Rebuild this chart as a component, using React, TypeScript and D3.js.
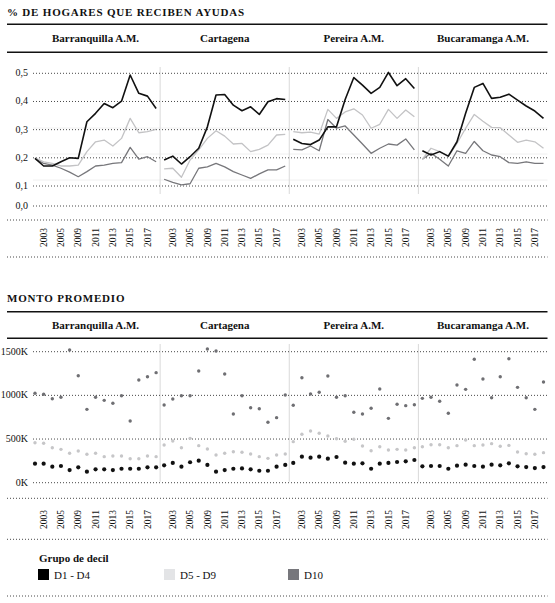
import React from "react";
import { scaleLinear, scalePoint, line } from "d3";

const years = [2002, 2003, 2004, 2005, 2008, 2009, 2010, 2011, 2012, 2013, 2014, 2015, 2016, 2017, 2018];
const yearTicks = [2003, 2005, 2009, 2011, 2013, 2015, 2017];
const cities = ["Barranquilla A.M.", "Cartagena", "Pereira A.M.", "Bucaramanga A.M."];
const groups = ["D1 - D4", "D5 - D9", "D10"];

// % de hogares que reciben ayudas, one row per city
const shareLow = [
  [0.198, 0.171, 0.171, 0.186, 0.2, 0.198, 0.328, 0.358, 0.393, 0.378, 0.401, 0.494, 0.429, 0.419, 0.375],
  [0.192, 0.206, 0.178, 0.204, 0.234, 0.31, 0.423, 0.425, 0.387, 0.367, 0.381, 0.354, 0.399, 0.41, 0.407],
  [0.266, 0.251, 0.247, 0.263, 0.31, 0.31, 0.407, 0.485, 0.458, 0.429, 0.45, 0.503, 0.456, 0.481, 0.446],
  [0.225, 0.21, 0.222, 0.206, 0.257, 0.358, 0.45, 0.464, 0.411, 0.415, 0.426, 0.405, 0.384, 0.366, 0.34],
];
const shareMid = [
  [0.2, 0.186, 0.18, 0.171, 0.171, 0.174, 0.222, 0.257, 0.263, 0.242, 0.269, 0.34, 0.289, 0.293, 0.301],
  [0.161, 0.163, 0.131, 0.192, 0.228, 0.269, 0.296, 0.277, 0.249, 0.251, 0.222, 0.23, 0.245, 0.281, 0.283],
  [0.293, 0.289, 0.291, 0.284, 0.372, 0.34, 0.363, 0.374, 0.352, 0.305, 0.319, 0.372, 0.34, 0.37, 0.346],
  [0.195, 0.234, 0.222, 0.204, 0.251, 0.305, 0.354, 0.33, 0.308, 0.307, 0.281, 0.255, 0.263, 0.257, 0.234],
];
const shareHigh = [
  [0.198, 0.18, 0.174, 0.163, 0.149, 0.133, 0.151, 0.171, 0.174, 0.18, 0.183, 0.237, 0.195, 0.204, 0.186],
  [0.124, 0.113, 0.104, 0.108, 0.163, 0.168, 0.18, 0.168, 0.151, 0.139, 0.127, 0.143, 0.157, 0.157, 0.171],
  [0.23, 0.228, 0.242, 0.225, 0.336, 0.305, 0.313, 0.281, 0.249, 0.216, 0.234, 0.249, 0.245, 0.267, 0.228],
  [0.195, 0.216, 0.195, 0.171, 0.225, 0.216, 0.258, 0.225, 0.21, 0.204, 0.183, 0.18, 0.186, 0.18, 0.18],
];

// monto promedio (miles), one row per city
const amountLow = [
  [218, 218, 183, 191, 145, 176, 126, 153, 153, 145, 160, 160, 160, 176, 176],
  [199, 226, 183, 234, 252, 203, 126, 145, 160, 164, 153, 137, 137, 183, 203],
  [226, 298, 286, 298, 275, 294, 229, 218, 222, 160, 218, 226, 237, 245, 260],
  [187, 191, 191, 160, 195, 206, 191, 183, 206, 199, 222, 187, 179, 168, 179],
];
const amountMid = [
  [458, 451, 401, 382, 337, 363, 325, 337, 298, 306, 306, 275, 275, 306, 298],
  [432, 477, 401, 508, 424, 386, 317, 337, 355, 348, 329, 298, 279, 317, 329],
  [470, 554, 592, 566, 535, 504, 474, 497, 420, 366, 412, 374, 382, 374, 401],
  [412, 435, 435, 401, 424, 489, 424, 432, 447, 417, 427, 352, 332, 325, 344],
];
const amountHigh = [
  [1024, 1012, 962, 978, 1520, 1225, 840, 978, 943, 909, 996, 707, 1176, 1214, 1260],
  [890, 958, 996, 996, 1279, 1531, 1508, 1245, 787, 996, 859, 847, 692, 745, 1004],
  [886, 1202, 1016, 1035, 1222, 978, 996, 806, 787, 852, 1073, 737, 898, 882, 893],
  [966, 978, 932, 795, 1119, 1069, 1413, 1187, 973, 1214, 1420, 1092, 973, 840, 1153],
];

const shareTicks = [0.5, 0.4, 0.3, 0.2, 0.1];
const amountTicks = [1500, 1000, 500, 0];

const W = 555;
const H = 603;
const FONT = "'Liberation Serif', 'DejaVu Serif', serif";
const INK = "#111";
const LEFT = 31;
const RIGHT = 547.5;
const EDGE = 7;
const panelW = (RIGHT - LEFT) / cities.length;

const lineColors = ["#111111", "#c3c3c5", "#77777b"];
const dotColors = ["#111111", "#c6c6c8", "#6f6f73"];
const swatchColors = ["#000000", "#e3e4e6", "#77777c"];

const xFor = (i: number) =>
  scalePoint<number>()
    .domain(years)
    .range([LEFT + i * panelW + 4, LEFT + (i + 1) * panelW - 4]);

const yShare = scaleLinear().domain([0.1, 0.5]).range([186, 73.3]);
const yAmount = scaleLinear().domain([0, 1500]).range([482.7, 351.7]);

const fmtShare = (v: number) => v.toFixed(1).replace(".", ",");

const Dotted: React.FC<{ y: number; x1?: number }> = ({ y, x1 = 33 }) => (
  <line x1={x1} x2={RIGHT} y1={y} y2={y} stroke="#333" strokeWidth={0.9} strokeDasharray="1,2" />
);

const Header: React.FC<{ title: string; titleY: number; lineTop: number; lineBottom: number }> = ({
  title,
  titleY,
  lineTop,
  lineBottom,
}) => (
  <g>
    <text x={EDGE} y={titleY} fontSize={11} fontWeight="bold" letterSpacing={0.8} fill={INK}>
      {title}
    </text>
    <line x1={EDGE} x2={RIGHT} y1={lineTop} y2={lineTop} stroke={INK} strokeWidth={1.5} />
    <line x1={EDGE} x2={RIGHT} y1={lineBottom} y2={lineBottom} stroke={INK} strokeWidth={1.5} />
    {cities.map((c, i) => (
      <text
        key={c}
        x={LEFT + (i + 0.5) * panelW}
        y={(lineTop + lineBottom) / 2 + 3.8}
        textAnchor="middle"
        fontSize={11}
        fontWeight="bold"
        fill={INK}
      >
        {c}
      </text>
    ))}
  </g>
);

const YearLabels: React.FC<{ yEnd: number }> = ({ yEnd }) => (
  <g>
    {cities.map((c, i) => {
      const x = xFor(i);
      return yearTicks.map((yr) => (
        <text
          key={c + yr}
          transform={`translate(${x(yr)},${yEnd}) rotate(-90)`}
          dy="0.33em"
          textAnchor="end"
          fontSize={9.5}
          fill={INK}
        >
          {yr}
        </text>
      ));
    })}
  </g>
);

const Separators: React.FC<{ y1: number; y2: number }> = ({ y1, y2 }) => (
  <g>
    {cities.slice(1).map((c, i) => (
      <line
        key={c}
        x1={LEFT + (i + 1) * panelW}
        x2={LEFT + (i + 1) * panelW}
        y1={y1}
        y2={y2}
        stroke="#d9d9d9"
        strokeWidth={1}
      />
    ))}
  </g>
);

export default function App() {
  const shareSeries = [shareLow, shareMid, shareHigh];
  const amountSeries = [amountLow, amountMid, amountHigh];

  return (
    <svg
      width={W}
      height={H}
      style={{ position: "absolute", left: 0, top: 0, background: "#fff", fontFamily: FONT }}
    >
      {/* top chart */}
      <Header title="% DE HOGARES QUE RECIBEN AYUDAS" titleY={16} lineTop={24.3} lineBottom={52.3} />
      {[128, 154, 180].map((y) => (
        <line key={y} x1={33} x2={RIGHT} y1={y} y2={y} stroke="#f0f0f0" strokeWidth={1} />
      ))}
      <Separators y1={67} y2={194} />
      {shareTicks.map((t) => (
        <g key={t}>
          <Dotted y={yShare(t)} />
          <text x={28} y={yShare(t) + 3} textAnchor="end" fontSize={10} fill={INK}>
            {fmtShare(t)}
          </text>
        </g>
      ))}
      <Dotted y={206} />
      <text x={28} y={209} textAnchor="end" fontSize={10} fill={INK}>
        {fmtShare(0)}
      </text>
      {cities.map((c, ci) => {
        const x = xFor(ci);
        return [2, 1, 0].map((g) => {
          const path = line<number>()
            .x((_, k) => x(years[k]) as number)
            .y((d) => yShare(d))(shareSeries[g][ci]);
          return (
            <path
              key={c + g}
              d={path || ""}
              fill="none"
              stroke={lineColors[g]}
              strokeWidth={g === 0 ? 1.6 : 1.3}
              strokeLinejoin="round"
            />
          );
        });
      })}
      <Dotted y={220} x1={EDGE} />
      <YearLabels yEnd={228} />
      <Dotted y={257} x1={EDGE} />

      {/* bottom chart */}
      <Header title="MONTO PROMEDIO" titleY={301.5} lineTop={311.7} lineBottom={338.3} />
      <Separators y1={344} y2={481.7} />
      {amountTicks.map((t) => (
        <g key={t}>
          <Dotted y={yAmount(t)} />
          <text x={28} y={yAmount(t) + 3} textAnchor="end" fontSize={10} fill={INK}>
            {t + "K"}
          </text>
        </g>
      ))}
      {cities.map((c, ci) => {
        const x = xFor(ci);
        return [2, 1, 0].map((g) =>
          amountSeries[g][ci].map((v, k) => (
            <circle
              key={c + g + k}
              cx={x(years[k])}
              cy={yAmount(v)}
              r={g === 0 ? 2.1 : 1.7}
              fill={dotColors[g]}
            />
          ))
        );
      })}
      <Dotted y={498.3} x1={EDGE} />
      <YearLabels yEnd={510} />
      <Dotted y={539.3} x1={EDGE} />

      {/* legend */}
      <text x={39} y={562} fontSize={11} fontWeight="bold" fill={INK}>
        Grupo de decil
      </text>
      {groups.map((g, i) => {
        const lx = [38, 164, 288][i];
        return (
          <g key={g}>
            <rect x={lx} y={569} width={11} height={11} fill={swatchColors[i]} />
            <text x={lx + 16} y={579} fontSize={11} fill={INK}>
              {g}
            </text>
          </g>
        );
      })}
      <Dotted y={596} x1={EDGE} />
    </svg>
  );
}
